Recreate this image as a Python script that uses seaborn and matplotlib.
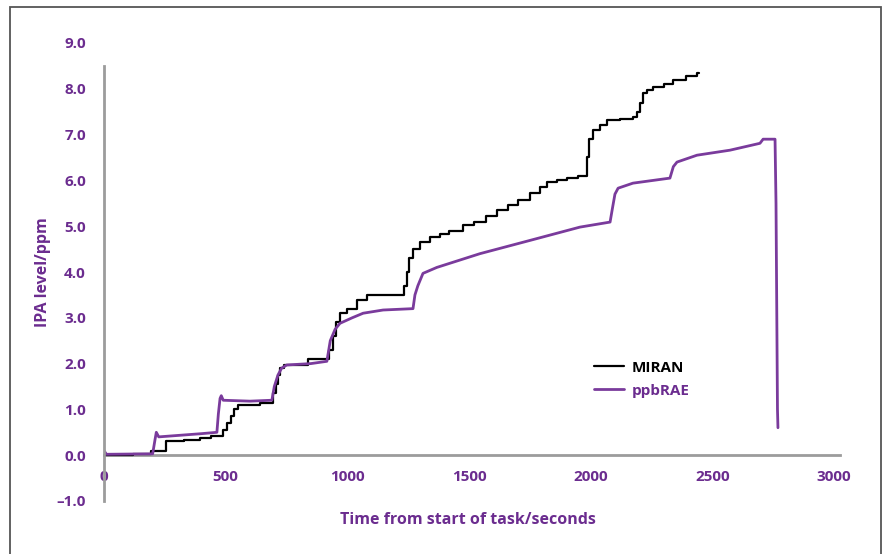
import matplotlib
matplotlib.use("Agg")
import matplotlib.pyplot as plt
import seaborn as sns
import pandas as pd
from matplotlib.patches import Rectangle

# ---- data ----
miran_t = [0, 120, 195, 255, 330, 395, 440, 490, 505, 520, 535, 550, 640, 695, 705, 715, 725,
           740, 840, 925, 940, 955, 970, 1000, 1040, 1080, 1235, 1245, 1255, 1270, 1300, 1340,
           1380, 1420, 1476, 1520, 1570, 1615, 1660, 1700, 1751, 1790, 1820, 1860, 1903, 1950,
           1985, 1995, 2010, 2039, 2067, 2120, 2174, 2191, 2203, 2215, 2231, 2256, 2300, 2339,
           2390, 2437, 2445]
miran_v = [0.0, 0.02, 0.1, 0.3, 0.33, 0.38, 0.42, 0.55, 0.7, 0.85, 1.0, 1.1, 1.13, 1.35, 1.55,
           1.75, 1.9, 1.98, 2.1, 2.3, 2.6, 2.9, 3.1, 3.2, 3.38, 3.49, 3.7, 4.0, 4.3, 4.5, 4.65,
           4.76, 4.82, 4.9, 5.02, 5.1, 5.22, 5.36, 5.46, 5.58, 5.72, 5.85, 5.96, 6.0, 6.05, 6.1,
           6.5, 6.9, 7.1, 7.2, 7.31, 7.35, 7.38, 7.5, 7.7, 7.9, 7.97, 8.03, 8.1, 8.19, 8.27,
           8.34, 8.34]

rae_t = [0, 10, 200, 210, 215, 225, 300, 400, 464, 470, 477, 482, 490, 600, 690, 700, 715, 730,
         751, 850, 916, 930, 950, 970, 1020, 1065, 1147, 1270, 1278, 1290, 1311, 1368, 1545,
         1751, 1956, 2080, 2090, 2100, 2113, 2174, 2326, 2340, 2355, 2437, 2573, 2696, 2709,
         2758, 2762, 2768, 2770]
rae_v = [0.1, 0.02, 0.03, 0.35, 0.5, 0.4, 0.43, 0.47, 0.5, 0.9, 1.24, 1.3, 1.2, 1.18, 1.2, 1.5,
         1.75, 1.9, 1.97, 2.0, 2.05, 2.5, 2.75, 2.88, 3.0, 3.1, 3.17, 3.2, 3.5, 3.7, 3.97, 4.1,
         4.4, 4.69, 4.98, 5.09, 5.4, 5.7, 5.83, 5.94, 6.05, 6.3, 6.4, 6.55, 6.66, 6.81, 6.9,
         6.9, 5.5, 1.0, 0.6]

series_names = ["MIRAN", "ppbRAE"]
y_ticks = [-1, 0, 1, 2, 3, 4, 5, 6, 7, 8, 9]
x_ticks = [0, 500, 1000, 1500, 2000, 2500, 3000]

PURPLE = "#6b2c8f"
LINE_PURPLE = "#7a3b9c"
GRAY = "#9c9c9c"

sns.set_style("white")
plt.rcParams["font.family"] = ["Open Sans", "DejaVu Sans"]

fig = plt.figure(figsize=(8.84, 5.54), dpi=100)
ax = fig.add_axes([104 / 884, 1 - 501 / 554, (840 - 104) / 884, (501 - 43) / 554])

df_m = pd.DataFrame({"t": miran_t, "v": miran_v})
df_r = pd.DataFrame({"t": rae_t, "v": rae_v})

sns.lineplot(data=df_m, x="t", y="v", ax=ax, color="black", linewidth=1.6,
             drawstyle="steps-post", estimator=None, sort=False, label=series_names[0])
sns.lineplot(data=df_r, x="t", y="v", ax=ax, color=LINE_PURPLE, linewidth=2.0,
             estimator=None, sort=False, label=series_names[1])

ax.set_xlim(0, 3025)
ax.set_ylim(-1, 9)
ax.set_xticks(x_ticks)
ax.set_yticks(y_ticks)
ax.set_yticklabels([f"{v:.1f}".replace("-", "\u2013") for v in y_ticks])
ax.set_xticklabels([str(v) for v in x_ticks])

for s in ["top", "right"]:
    ax.spines[s].set_visible(False)
ax.spines["bottom"].set_position(("data", 0))
ax.spines["bottom"].set_color(GRAY)
ax.spines["bottom"].set_linewidth(2)
ax.spines["left"].set_color(GRAY)
ax.spines["left"].set_linewidth(2)
ax.spines["left"].set_bounds(-1, 8.5)
ax.spines["bottom"].set_zorder(0)

ax.tick_params(axis="both", length=0, labelcolor=PURPLE, labelsize=11)
ax.tick_params(axis="y", pad=13)
ax.tick_params(axis="x", pad=11)
for lab in ax.get_xticklabels() + ax.get_yticklabels():
    lab.set_fontweight("bold")

ax.set_xlabel("Time from start of task/seconds", color=PURPLE, fontsize=11.5, fontweight="bold")
ax.set_ylabel("IPA level/ppm", color=PURPLE, fontsize=11.5, fontweight="bold")
ax.xaxis.set_label_coords(0.495, -0.041)
ax.xaxis.label.set_verticalalignment("center")
ax.yaxis.set_label_coords(-0.083, 0.5)
ax.yaxis.label.set_verticalalignment("center")

leg = ax.legend(loc="center left", bbox_to_anchor=(0.647, 0.266), frameon=False,
                handlelength=2.0, handletextpad=0.45, labelspacing=0.6,
                prop={"weight": "bold", "size": 11})
leg.get_texts()[0].set_color("black")
leg.get_texts()[1].set_color(PURPLE)

fig.patches.append(Rectangle((10 / 884, -0.05), (881 - 10) / 884, 1.05 - 7 / 554,
                             transform=fig.transFigure, fill=False,
                             edgecolor="#555555", linewidth=1.3, zorder=10))

fig.savefig("out.png", dpi=100)
